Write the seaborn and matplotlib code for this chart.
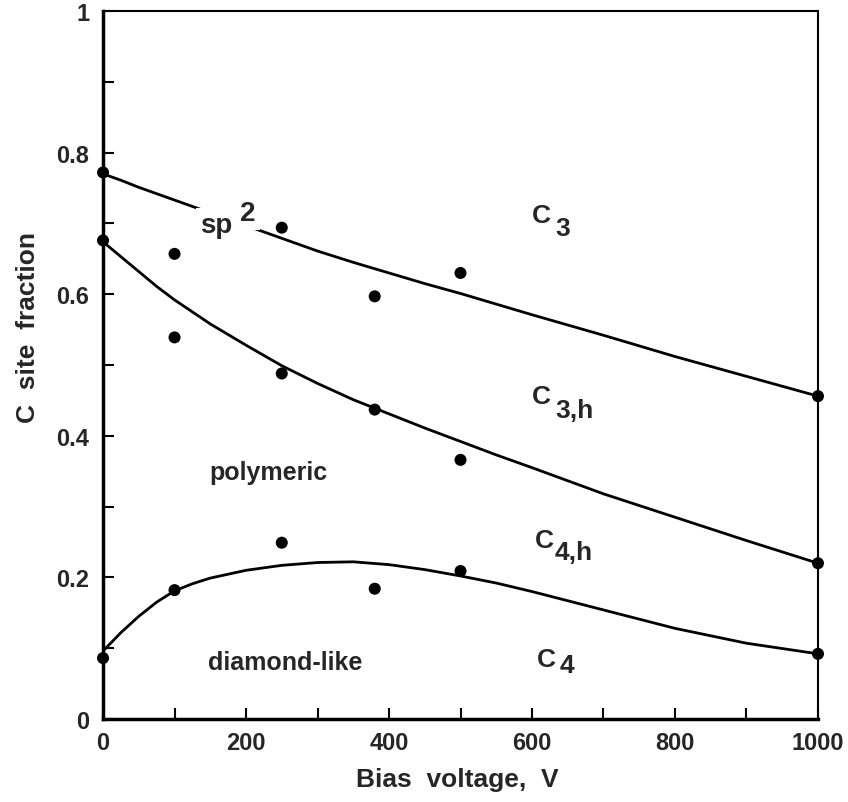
import matplotlib
matplotlib.use("Agg")
import matplotlib.pyplot as plt
import seaborn as sns
import pandas as pd
from matplotlib.ticker import MultipleLocator, FixedLocator, FixedFormatter

# ---- data ----
bias_points = [0, 100, 250, 380, 500, 1000]
sp2_points = [0.772, 0.657, 0.694, 0.597, 0.630, 0.456]
poly_points = [0.676, 0.539, 0.488, 0.437, 0.366, 0.220]
dia_points = [0.086, 0.182, 0.249, 0.184, 0.209, 0.092]

curve_x = [0, 25, 50, 75, 100, 125, 150, 200, 250, 300, 350, 400, 450, 500,
           550, 600, 700, 800, 900, 1000]
sp2_curve = [0.770, 0.761, 0.751, 0.742, 0.733, 0.724, 0.715, 0.697, 0.679,
             0.661, 0.645, 0.630, 0.615, 0.601, 0.586, 0.571, 0.542, 0.512,
             0.484, 0.456]
poly_curve = [0.674, 0.653, 0.632, 0.611, 0.592, 0.575, 0.558, 0.528, 0.499,
              0.474, 0.451, 0.431, 0.411, 0.392, 0.373, 0.355, 0.318, 0.285,
              0.252, 0.220]
dia_curve = [0.096, 0.122, 0.145, 0.165, 0.181, 0.191, 0.199, 0.210, 0.217,
             0.221, 0.222, 0.218, 0.211, 0.202, 0.192, 0.180, 0.154, 0.128,
             0.107, 0.092]

x_ticks = [0, 200, 400, 600, 800, 1000]
x_ticklabels = ["0", "200", "400", "600", "800", "1000"]
y_ticks = [0, 0.2, 0.4, 0.6, 0.8, 1.0]
y_ticklabels = ["0", "0.2", "0.4", "0.6", "0.8", "1"]

# ---- tables ----
pts = pd.concat([
    pd.DataFrame({"x": bias_points, "y": sp2_points, "s": "sp2"}),
    pd.DataFrame({"x": bias_points, "y": poly_points, "s": "poly"}),
    pd.DataFrame({"x": bias_points, "y": dia_points, "s": "dia"}),
])
curves = pd.concat([
    pd.DataFrame({"x": curve_x, "y": sp2_curve, "s": "sp2"}),
    pd.DataFrame({"x": curve_x, "y": poly_curve, "s": "poly"}),
    pd.DataFrame({"x": curve_x, "y": dia_curve, "s": "dia"}),
])

sns.set_style("ticks")
plt.rcParams["font.family"] = ["Liberation Sans", "DejaVu Sans"]
plt.rcParams["font.weight"] = "bold"

fig = plt.figure(figsize=(8.48, 8.03), dpi=100)
ax = fig.add_axes([0.1215, 0.1034, 0.8431, 0.8816])

pal = {"sp2": "black", "poly": "black", "dia": "black"}
sns.lineplot(data=curves, x="x", y="y", hue="s", palette=pal, units="s",
             estimator=None, sort=False, linewidth=2.0, legend=False, ax=ax)
sns.scatterplot(data=pts, x="x", y="y", hue="s", palette=pal, s=75,
                edgecolor="black", linewidth=0, legend=False, ax=ax,
                clip_on=False, zorder=5)

ax.set_xlim(0, 1000)
ax.set_ylim(0, 1)
ax.xaxis.set_major_locator(FixedLocator(x_ticks))
ax.xaxis.set_major_formatter(FixedFormatter(x_ticklabels))
ax.yaxis.set_major_locator(FixedLocator(y_ticks))
ax.yaxis.set_major_formatter(FixedFormatter(y_ticklabels))
ax.xaxis.set_minor_locator(MultipleLocator(100))
ax.yaxis.set_minor_locator(MultipleLocator(0.1))
ax.tick_params(which="both", direction="in", length=8, width=1.5,
               top=False, right=False, labelsize=17, color="black")
ax.tick_params(axis="x", which="major", pad=9)
ax.tick_params(axis="y", which="major", pad=10)
for lab in ax.get_xticklabels() + ax.get_yticklabels():
    lab.set_fontweight("bold")

for side in ["left", "bottom"]:
    ax.spines[side].set_linewidth(2.5)
for side in ["top", "right"]:
    ax.spines[side].set_linewidth(1.5)
    ax.spines[side].set_visible(True)
for sp in ax.spines.values():
    sp.set_color("black")

ax.set_xlabel("Bias  voltage,  V", fontsize=19, fontweight="bold")
ax.set_ylabel("C  site  fraction", fontsize=19, fontweight="bold")
ax.xaxis.set_label_coords(0.495, -0.068)
ax.yaxis.set_label_coords(-0.088, 0.555)

# ---- region labels ----
fs = 19
wb = dict(facecolor="white", edgecolor="none", pad=3)
ax.text(192, 0.705, "2", fontsize=20, fontweight="bold", ha="left",
        va="baseline", bbox=wb, zorder=4)
ax.text(136, 0.688, "sp", fontsize=20, fontweight="bold", ha="left",
        va="baseline", bbox=wb, zorder=4.5)

ax.text(600, 0.702, "C", fontsize=fs, fontweight="bold", ha="left", va="baseline")
ax.text(632, 0.684, "3", fontsize=fs, fontweight="bold", ha="left", va="baseline")

ax.text(600, 0.447, "C", fontsize=fs, fontweight="bold", ha="left", va="baseline")
ax.text(632, 0.426, "3,h", fontsize=fs, fontweight="bold", ha="left", va="baseline")

ax.text(604, 0.243, "C", fontsize=fs, fontweight="bold", ha="left", va="baseline")
ax.text(632, 0.226, "4,h", fontsize=fs, fontweight="bold", ha="left", va="baseline")

ax.text(607, 0.075, "C", fontsize=fs, fontweight="bold", ha="left", va="baseline")
ax.text(639, 0.066, "4", fontsize=fs, fontweight="bold", ha="left", va="baseline")

ax.text(231, 0.339, "polymeric", fontsize=18, fontweight="bold", ha="center",
        va="baseline")
ax.text(255, 0.0705, "diamond-like", fontsize=18, fontweight="bold",
        ha="center", va="baseline")

ax.set_facecolor("white")
fig.patch.set_facecolor("white")
fig.savefig("out.png", dpi=100)
